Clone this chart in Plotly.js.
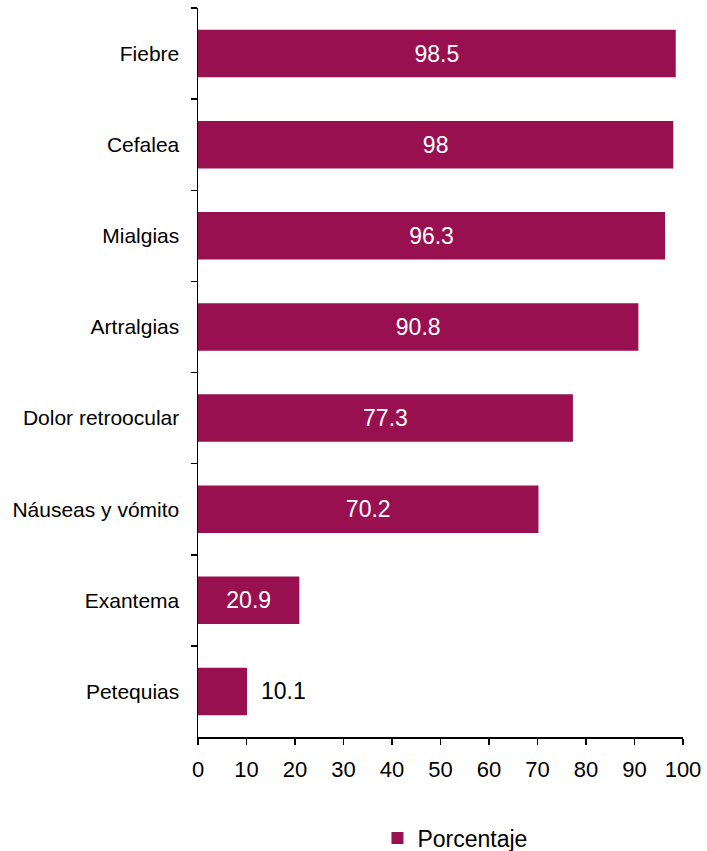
<!DOCTYPE html>
<html><head><meta charset="utf-8">
<script src="https://cdn.plot.ly/plotly-3.0.1.min.js"></script>
<style>body{margin:0;padding:0;background:#fff}#chart{width:707px;height:851px}</style>
</head><body><div id="chart"></div>
<script>
const categories = ["Fiebre","Cefalea","Mialgias","Artralgias","Dolor retroocular","Náuseas y vómito","Exantema","Petequias"];
const values = [98.5, 98, 96.3, 90.8, 77.3, 70.2, 20.9, 10.1];
const seriesName = "Porcentaje";
const xTicks = [0,10,20,30,40,50,60,70,80,90,100];

const FONT = "Liberation Sans, Arial, sans-serif";
const color = "#98104F";
const isOutside = values.map(v => v < 15);

const annotations = values.map((v, i) => isOutside[i] ? {
  x: v, y: categories[i], xref: "x", yref: "y",
  text: String(v), showarrow: false, xanchor: "left", xshift: 12,
  font: {family: FONT, size: 23, color: "#000"}
} : null).filter(a => a);

Plotly.newPlot("chart", [{
  type: "bar",
  orientation: "h",
  name: seriesName,
  y: categories,
  x: values,
  text: values.map((v, i) => isOutside[i] ? "" : String(v)),
  textposition: "inside",
  insidetextanchor: "middle",
  insidetextfont: {family: FONT, size: 23, color: "#fff"},
  constraintext: "none",
  marker: {color: color},
  hoverinfo: "none"
}], {
  width: 707, height: 851,
  margin: {l: 198, r: 24, t: 8, b: 114, autoexpand: false},
  paper_bgcolor: "#fff", plot_bgcolor: "#fff",
  font: {family: FONT, color: "#000"},
  bargap: 0.48,
  showlegend: true,
  annotations: annotations,
  legend: {orientation: "h", x: 0.37, xanchor: "left", xref: "paper", y: -0.1385, yanchor: "middle", font: {size: 23}, itemwidth: 30},
  xaxis: {
    range: [0, 100], tickvals: xTicks, ticktext: xTicks.map(String),
    showgrid: false, zeroline: false, showline: true, linecolor: "#000", linewidth: 1.5,
    ticks: "outside", ticklen: 6, tickwidth: 1.5, tickcolor: "#000",
    tickfont: {size: 22}, ticklabelstandoff: 6, fixedrange: true
  },
  yaxis: {
    autorange: "reversed", type: "category",
    showgrid: false, zeroline: false, showline: true, linecolor: "#000", linewidth: 1.5,
    ticks: "outside", tickson: "boundaries", ticklen: 6, tickwidth: 1.5, tickcolor: "#000",
    tickfont: {size: 21}, ticklabelstandoff: 13, fixedrange: true
  }
}, {displayModeBar: false, staticPlot: true});
</script></body></html>
